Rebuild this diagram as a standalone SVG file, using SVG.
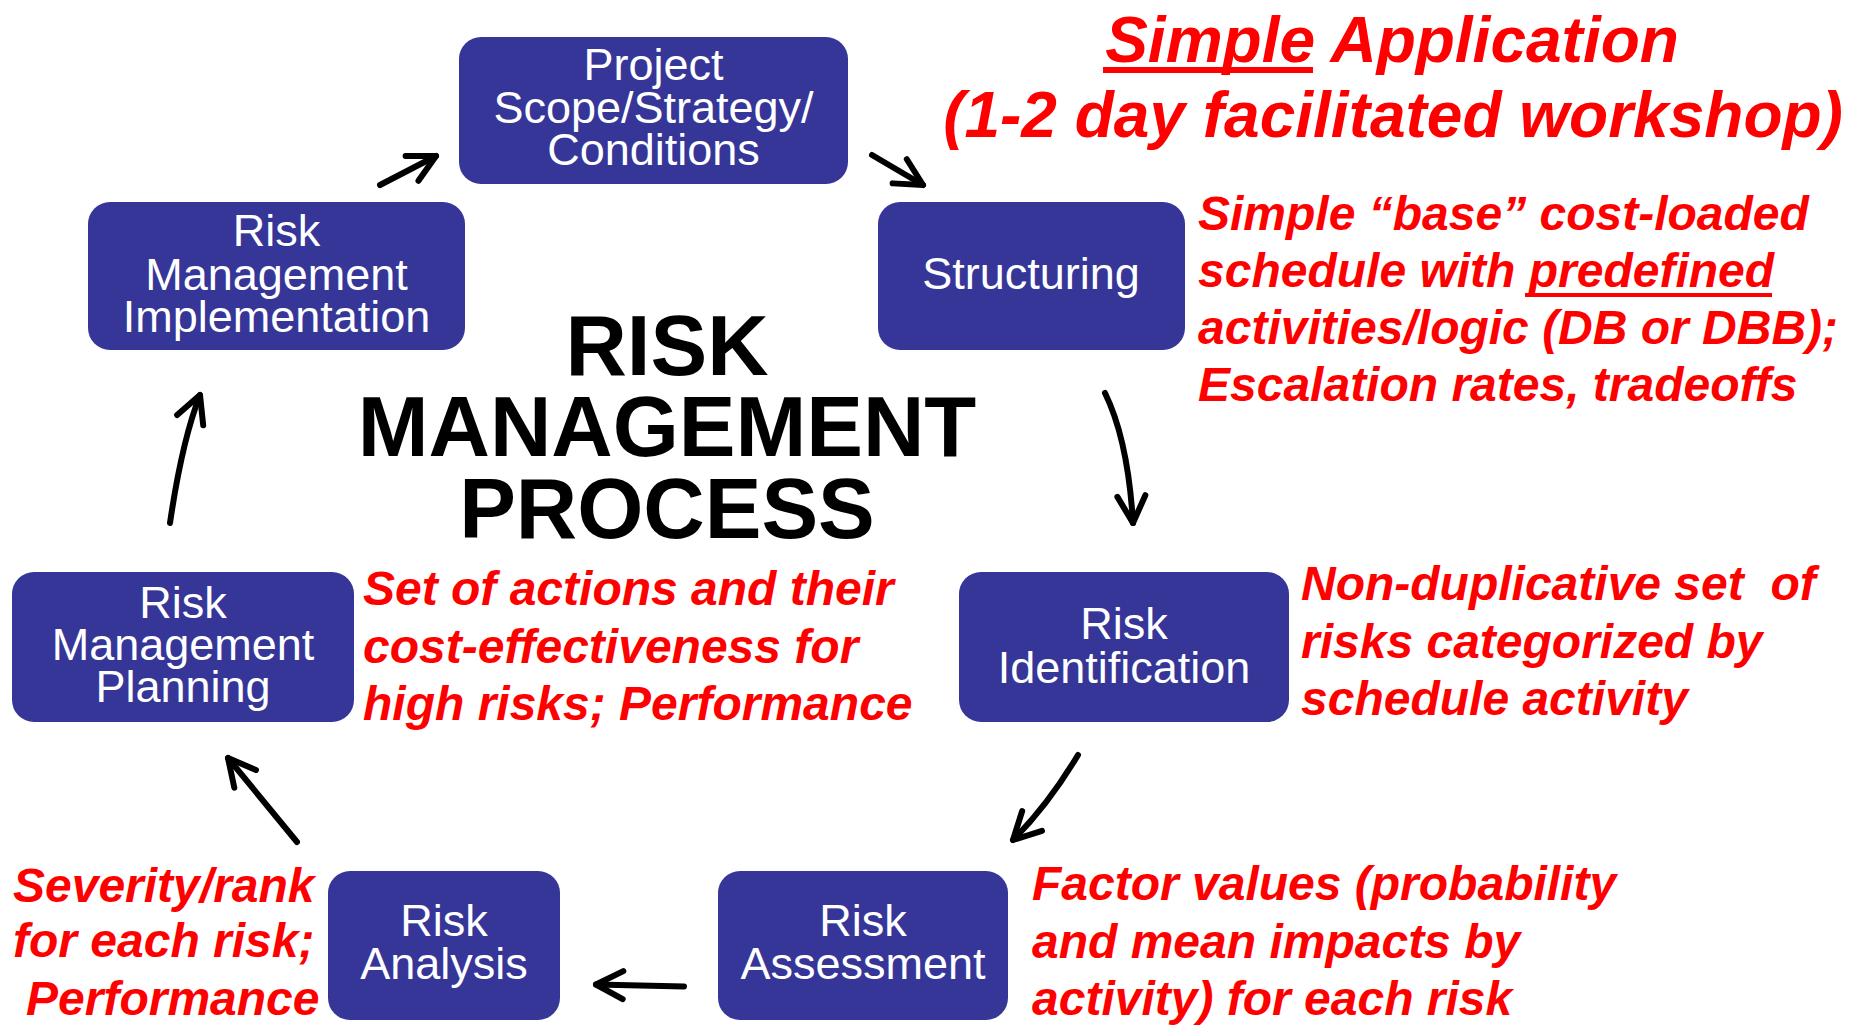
<svg xmlns="http://www.w3.org/2000/svg" width="1864" height="1025" viewBox="0 0 1864 1025">
<style>
.box{fill:#363699;}
.bt{font-family:"Liberation Sans",Arial,sans-serif;font-size:45px;fill:#ffffff;text-anchor:middle;}
.ann{font-family:"Liberation Sans",Arial,sans-serif;font-size:48px;font-weight:bold;font-style:italic;fill:#ff0000;}
.ttl{font-family:"Liberation Sans",Arial,sans-serif;font-size:64px;font-weight:bold;font-style:italic;fill:#ff0000;text-anchor:middle;}
.ctr{font-family:"Liberation Sans",Arial,sans-serif;font-size:85px;font-weight:bold;fill:#000000;text-anchor:middle;}
.arr{fill:none;stroke:#000;stroke-width:6;stroke-linecap:round;stroke-linejoin:round;marker-end:url(#ah);}
.ul{fill:#ff0000;}
</style>
<defs>
<marker id="ah" markerUnits="userSpaceOnUse" orient="auto" refX="0" refY="0" markerWidth="40" markerHeight="40" overflow="visible">
<path d="M-27,-14 L0,0 L-27,14" fill="none" stroke="#000" stroke-width="6" stroke-linecap="round" stroke-linejoin="round"/>
</marker>
</defs>
<rect width="1864" height="1025" fill="#ffffff"/>

<g id="title">
<text class="ttl" x="1392" y="62">Simple Application</text>
<rect class="ul" x="1103" y="67" width="210" height="6"/>
<text class="ttl" x="1393" y="137">(1-2 day facilitated workshop)</text>
</g>

<g id="center-title">
<text class="ctr" x="667" y="375">RISK</text>
<text class="ctr" x="667" y="456">MANAGEMENT</text>
<text class="ctr" x="667" y="538">PROCESS</text>
</g>

<g id="node-project">
<rect class="box" x="459" y="37" width="389" height="147" rx="22"/>
<text class="bt" x="653.5" y="80">Project</text>
<text class="bt" x="653.5" y="123">Scope/Strategy/</text>
<text class="bt" x="653.5" y="165">Conditions</text>
</g>

<g id="node-structuring">
<rect class="box" x="878" y="202" width="307" height="148" rx="22"/>
<text class="bt" x="1031" y="289">Structuring</text>
</g>

<g id="node-identification">
<rect class="box" x="959" y="572" width="330" height="150" rx="22"/>
<text class="bt" x="1124" y="639">Risk</text>
<text class="bt" x="1124" y="683">Identification</text>
</g>

<g id="node-assessment">
<rect class="box" x="718" y="871" width="290" height="149" rx="22"/>
<text class="bt" x="863" y="936">Risk</text>
<text class="bt" x="863" y="979">Assessment</text>
</g>

<g id="node-analysis">
<rect class="box" x="328" y="871" width="232" height="149" rx="22"/>
<text class="bt" x="444" y="936">Risk</text>
<text class="bt" x="444" y="979">Analysis</text>
</g>

<g id="node-planning">
<rect class="box" x="12" y="572" width="342" height="150" rx="22"/>
<text class="bt" x="183" y="618">Risk</text>
<text class="bt" x="183" y="660">Management</text>
<text class="bt" x="183" y="702">Planning</text>
</g>

<g id="node-implementation">
<rect class="box" x="88" y="202" width="377" height="148" rx="22"/>
<text class="bt" x="276.5" y="246">Risk</text>
<text class="bt" x="276.5" y="290">Management</text>
<text class="bt" x="276.5" y="332">Implementation</text>
</g>

<g id="annotations">
<text class="ann" x="1198" y="230">Simple “base” cost-loaded</text>
<text class="ann" x="1198" y="287">schedule with predefined</text>
<rect class="ul" x="1525" y="293" width="247" height="4"/>
<text class="ann" x="1198" y="344">activities/logic (DB or DBB);</text>
<text class="ann" x="1198" y="401">Escalation rates, tradeoffs</text>

<text class="ann" x="1301" y="600" xml:space="preserve">Non-duplicative set  of</text>
<text class="ann" x="1301" y="658">risks categorized by</text>
<text class="ann" x="1301" y="715">schedule activity</text>

<text class="ann" x="1032" y="900">Factor values (probability</text>
<text class="ann" x="1032" y="958">and mean impacts by</text>
<text class="ann" x="1032" y="1015">activity) for each risk</text>

<text class="ann" x="363" y="605">Set of actions and their</text>
<text class="ann" x="363" y="663">cost-effectiveness for</text>
<text class="ann" x="363" y="720">high risks; Performance</text>

<text class="ann" x="13" y="902">Severity/rank</text>
<text class="ann" x="13" y="957">for each risk;</text>
<text class="ann" x="26" y="1015">Performance</text>
</g>

<g id="connectors">
<path class="arr" d="M380,185 L436,156"/>
<path class="arr" d="M872,155 L923,185"/>
<path class="arr" d="M1105,393 Q1128,440 1133,523"/>
<path class="arr" d="M1078,755 Q1048,805 1013,840"/>
<path class="arr" d="M684,986.5 L596,984.5"/>
<path class="arr" d="M297,842 L228,758"/>
<path class="arr" d="M170,523 Q182,441 200,395"/>
</g>
</svg>
